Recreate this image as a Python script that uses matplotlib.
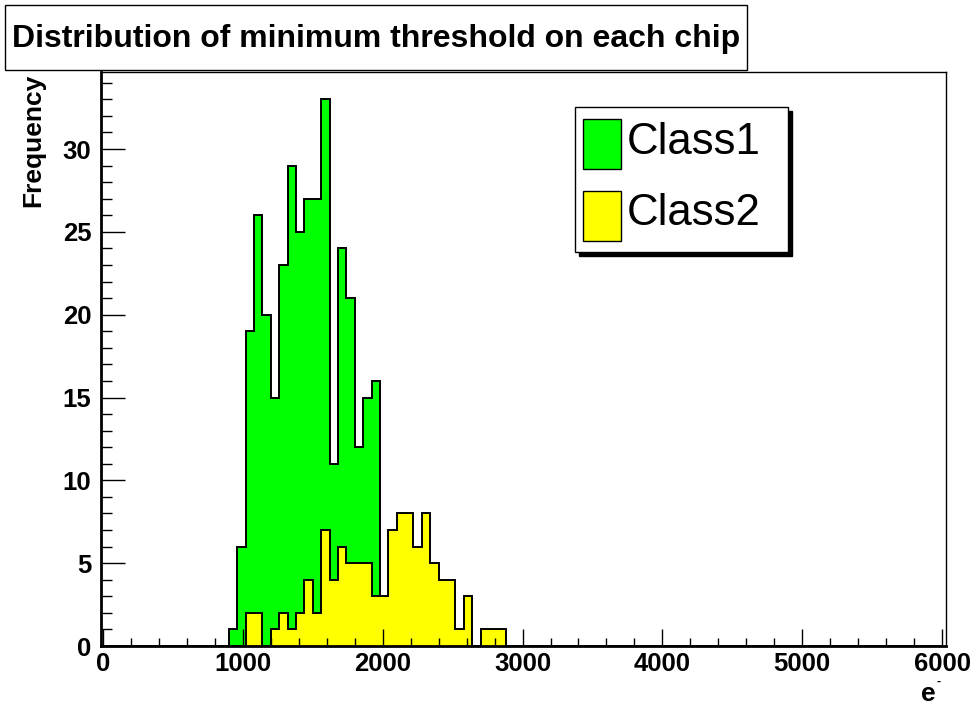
import matplotlib
matplotlib.use('Agg')
import matplotlib.pyplot as plt
from matplotlib.patches import Rectangle
import numpy as np

plt.rcParams['font.family'] = ['Liberation Sans', 'DejaVu Sans']

# histogram data (bin width 60 e-)
bin_width = 60
green_start = 900
green_counts = [1, 6, 19, 26, 20, 15, 23, 29, 25, 27, 27, 33, 11, 24, 21, 12, 15, 16]
yellow_start = 1020
yellow_counts = [2, 2, 0, 1, 2, 1, 2, 4, 2, 7, 4, 6, 5, 5, 5, 3, 3, 7, 8, 8, 6, 8, 5,
                 4, 4, 1, 3, 0, 1, 1, 1]
labels = ['Class1', 'Class2']
colors = ['#00ff00', '#ffff00']

W, H = 974, 707
fig = plt.figure(figsize=(W / 100, H / 100), dpi=100)

def fx(px):
    return px / W

def fy(py):
    return 1 - py / H

# frame
ax = fig.add_axes([fx(101), fy(646), fx(945.5) - fx(101), fy(72) - fy(646)])

edges = np.arange(0, 6000 + bin_width, bin_width)

def full_counts(start, counts):
    c = np.zeros(len(edges) - 1)
    i0 = start // bin_width
    c[i0:i0 + len(counts)] = counts
    return c

ax.stairs(full_counts(green_start, green_counts), edges, fill=True,
          facecolor=colors[0], edgecolor='black', linewidth=1.4)
ax.stairs(full_counts(yellow_start, yellow_counts), edges, fill=True,
          facecolor=colors[1], edgecolor='black', linewidth=1.4)

ax.set_xlim(-15, 6025)
ax.set_ylim(0, 34.65)
ax.set_xticks(range(0, 6001, 1000))
ax.set_xticks(range(0, 6001, 200), minor=True)
ax.set_yticks(range(0, 31, 5))
ax.set_yticks(range(0, 35), minor=True)
ax.tick_params(axis='both', which='both', direction='in', labelsize=18.5)
ax.tick_params(axis='x', which='major', length=12, width=1, pad=4)
ax.tick_params(axis='x', which='minor', length=6, width=1)
ax.tick_params(axis='y', which='major', length=17, width=1, pad=7)
ax.tick_params(axis='y', which='minor', length=8, width=1)
for lab in ax.get_xticklabels() + ax.get_yticklabels():
    lab.set_fontweight('bold')
for s in ['left', 'bottom']:
    ax.spines[s].set_linewidth(2)
for s in ['top', 'right']:
    ax.spines[s].set_linewidth(1)

# axis titles
fig.text(fx(33), fy(74), 'Frequency', rotation=90, ha='center', va='top',
         fontsize=19, fontweight='bold')
fig.text(fx(936), fy(694), 'e', ha='right', va='center', fontsize=19, fontweight='bold')
fig.text(fx(936.5), fy(682), '-', ha='left', va='center', fontsize=9, fontweight='bold')

# title box
fig.add_artist(Rectangle((fx(5), fy(70)), fx(747) - fx(5), fy(5) - fy(70),
                         transform=fig.transFigure, facecolor='white',
                         edgecolor='black', linewidth=1))
fig.text(fx(376), fy(39), 'Distribution of minimum threshold on each chip',
         ha='center', va='center', fontsize=23, fontweight='bold')

# legend with shadow
fig.add_artist(Rectangle((fx(579), fy(255.7)), fx(792.3) - fx(579), fy(111) - fy(255.7),
                         transform=fig.transFigure, facecolor='black', edgecolor='black'))
fig.add_artist(Rectangle((fx(575), fy(251.7)), fx(788.3) - fx(575), fy(107.3) - fy(251.7),
                         transform=fig.transFigure, facecolor='white',
                         edgecolor='black', linewidth=1))
swatch_tops = [119, 190.7]
for lab, col, top in zip(labels, colors, swatch_tops):
    fig.add_artist(Rectangle((fx(583), fy(top + 50)), fx(621) - fx(583), fy(top) - fy(top + 50),
                             transform=fig.transFigure, facecolor=col,
                             edgecolor='black', linewidth=1))
    fig.text(fx(627), fy(top + 23), lab, ha='left', va='center', fontsize=31.5)

fig.savefig('out.png', dpi=100)
